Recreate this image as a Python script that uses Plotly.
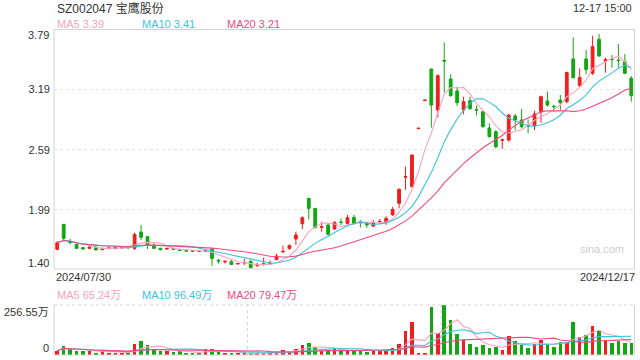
import plotly.graph_objects as go
import pandas as pd

title_text = "SZ002047 宝鹰股份"
time_text = "12-17 15:00"
start_label = "2024/07/30"
end_label = "2024/12/17"
price_ticks = [1.40, 1.99, 2.59, 3.19, 3.79]
vol_max = 256.55  # 万

opens = [1.596, 1.845, 1.676, 1.646, 1.613, 1.606, 1.616, 1.593, 1.603, 1.603,
         1.612, 1.614, 1.606, 1.769, 1.722, 1.639, 1.606, 1.599, 1.603, 1.593,
         1.582, 1.581, 1.581, 1.577, 1.599, 1.485, 1.470, 1.473, 1.450, 1.460,
         1.476, 1.438, 1.447, 1.452, 1.493, 1.570, 1.606, 1.699, 1.852, 2.105,
         2.005, 1.815, 1.839, 1.799, 1.868, 1.855, 1.915, 1.872, 1.862, 1.829,
         1.872, 1.862, 1.940, 2.055, 2.316, 2.222, 2.800, 3.080, 3.396, 2.987,
         3.480, 3.296, 3.176, 2.987, 3.080, 2.990, 2.970, 2.807, 2.770, 2.684,
         2.687, 2.927, 2.887, 2.829, 2.827, 2.970, 3.076, 3.024, 3.086, 3.070,
         3.496, 3.230, 3.496, 3.353, 3.692, 3.475, 3.495, 3.485, 3.469, 3.303]
highs = [1.679, 1.850, 1.700, 1.652, 1.622, 1.625, 1.630, 1.612, 1.615, 1.625,
         1.620, 1.622, 1.762, 1.839, 1.730, 1.655, 1.612, 1.610, 1.608, 1.600,
         1.585, 1.585, 1.585, 1.585, 1.603, 1.500, 1.490, 1.490, 1.460, 1.500,
         1.490, 1.463, 1.513, 1.486, 1.553, 1.633, 1.645, 1.772, 1.925, 2.108,
         2.008, 1.872, 1.855, 1.877, 1.905, 1.940, 1.940, 1.890, 1.870, 1.890,
         1.898, 1.925, 2.020, 2.205, 2.420, 2.544, 2.806, 3.086, 3.396, 3.343,
         3.659, 3.343, 3.220, 3.120, 3.120, 3.030, 2.977, 2.853, 2.787, 2.703,
         2.947, 2.947, 2.997, 2.893, 2.980, 3.130, 3.170, 3.037, 3.136, 3.370,
         3.712, 3.402, 3.585, 3.728, 3.745, 3.510, 3.535, 3.645, 3.545, 3.326]
lows = [1.589, 1.689, 1.645, 1.600, 1.593, 1.598, 1.585, 1.588, 1.598, 1.598,
        1.603, 1.605, 1.589, 1.689, 1.600, 1.600, 1.585, 1.592, 1.590, 1.583,
        1.575, 1.575, 1.575, 1.575, 1.433, 1.453, 1.455, 1.440, 1.445, 1.440,
        1.400, 1.420, 1.433, 1.440, 1.490, 1.565, 1.590, 1.640, 1.799, 1.895,
        1.806, 1.772, 1.733, 1.790, 1.839, 1.845, 1.840, 1.815, 1.810, 1.818,
        1.855, 1.840, 1.930, 2.005, 2.190, 2.215, 2.800, 3.080, 2.810, 2.913,
        3.160, 3.120, 3.027, 2.943, 2.987, 2.933, 2.810, 2.714, 2.604, 2.597,
        2.670, 2.787, 2.804, 2.754, 2.787, 2.860, 3.020, 2.970, 2.987, 3.053,
        3.303, 3.220, 3.343, 3.336, 3.519, 3.360, 3.410, 3.410, 3.346, 3.070]
closes = [1.662, 1.706, 1.665, 1.606, 1.600, 1.619, 1.590, 1.606, 1.610, 1.613,
          1.613, 1.612, 1.746, 1.716, 1.639, 1.606, 1.593, 1.606, 1.596, 1.586,
          1.579, 1.578, 1.578, 1.580, 1.506, 1.480, 1.475, 1.446, 1.455, 1.465,
          1.416, 1.442, 1.452, 1.457, 1.529, 1.576, 1.633, 1.739, 1.912, 2.005,
          1.812, 1.822, 1.746, 1.865, 1.865, 1.912, 1.855, 1.862, 1.840, 1.862,
          1.875, 1.905, 1.995, 2.195, 2.322, 2.537, 2.805, 3.085, 3.036, 3.329,
          3.475, 3.130, 3.060, 3.070, 3.000, 2.987, 2.820, 2.720, 2.620, 2.688,
          2.937, 2.887, 2.820, 2.827, 2.947, 3.120, 3.037, 3.020, 3.060, 3.360,
          3.309, 3.310, 3.392, 3.619, 3.525, 3.490, 3.490, 3.480, 3.353, 3.130]
volumes = [22, 46, 29, 22, 22, 19, 12, 19, 12, 12,
           12, 12, 56, 72, 51, 26, 22, 22, 15, 22,
           7, 12, 12, 31, 31, 19, 9, 9, 9, 9,
           9, 9, 9, 9, 17, 26, 22, 31, 51, 62,
           41, 22, 22, 34, 22, 22, 22, 22, 15, 22,
           22, 22, 36, 56, 123, 169, 10, 10, 248, 111,
           256.55, 180, 108, 77, 56, 43, 51, 36, 43, 26,
           100, 72, 51, 36, 56, 79, 56, 43, 64.5, 67,
           169.7, 92, 103, 149, 125, 75, 60, 70, 60, 61.2]

RED = "#f01e1e"
GREEN = "#12a612"
C_MA5 = "#f7a3bf"
C_MA10 = "#3cc3df"
C_MA20 = "#ee4a80"
TXT = "#333333"
BORDER = "#d4d4d4"
GRID = "#e4e4e4"

n = len(closes)
idx = list(range(n))
cs = pd.Series(closes)
vs = pd.Series(volumes)
ma = {k: cs.rolling(k, min_periods=1).mean() for k in (5, 10, 20)}
vma = {k: vs.rolling(k, min_periods=1).mean() for k in (5, 10, 20)}
vol_colors = [RED if c >= o else GREEN for o, c in zip(opens, closes)]

W, H = 640, 360
px_x = lambda p: p / W
px_y = lambda p: 1 - p / H
X0, X1 = px_x(54), px_x(634.5)
MY0, MY1 = px_y(269), px_y(29.5)
VY0, VY1 = px_y(355), px_y(305)

fig = go.Figure()
fig.add_trace(go.Candlestick(
    x=idx, open=opens, high=highs, low=lows, close=closes,
    increasing=dict(line=dict(color=RED, width=1), fillcolor=RED),
    decreasing=dict(line=dict(color=GREEN, width=1), fillcolor=GREEN),
    whiskerwidth=0, xaxis="x", yaxis="y", showlegend=False))
for k, col in ((5, C_MA5), (10, C_MA10), (20, C_MA20)):
    fig.add_trace(go.Scatter(x=idx, y=ma[k], mode="lines", line=dict(color=col, width=1.1),
                             xaxis="x", yaxis="y", showlegend=False))
fig.add_trace(go.Bar(x=idx, y=volumes, marker=dict(color=vol_colors, line=dict(width=0)),
                     width=0.55, xaxis="x2", yaxis="y2", showlegend=False))
for k, col in ((5, C_MA5), (10, C_MA10), (20, C_MA20)):
    fig.add_trace(go.Scatter(x=idx, y=vma[k], mode="lines", line=dict(color=col, width=1.1),
                             xaxis="x2", yaxis="y2", showlegend=False))

xr = [-0.5, n - 0.5]
fig.update_layout(
    width=W, height=H, margin=dict(l=0, r=0, t=0, b=0),
    paper_bgcolor="white", plot_bgcolor="white", boxgap=0.38,
    font=dict(family="Liberation Sans, Arial, Noto Sans CJK SC", size=11, color=TXT),
    xaxis=dict(domain=[X0, X1], range=xr, showgrid=False, showticklabels=False,
               zeroline=False, rangeslider=dict(visible=False), fixedrange=True),
    yaxis=dict(domain=[MY0, MY1], range=[price_ticks[0], price_ticks[-1]],
               tickvals=price_ticks[1:-1], ticktext=[f"{v:.2f}" for v in price_ticks[1:-1]],
               showgrid=True, gridcolor=GRID, griddash="dot", gridwidth=1,
               zeroline=False, ticks="", ticklabelstandoff=3, tickfont=dict(size=11, color=TXT)),
    xaxis2=dict(domain=[X0, X1], range=xr, showgrid=False, showticklabels=False, zeroline=False,
                anchor="y2"),
    yaxis2=dict(domain=[VY0, VY1], range=[0, vol_max], showticklabels=False, showgrid=False,
                zeroline=False, anchor="x2"),
    bargap=0,
)

shapes = [
    dict(type="rect", xref="paper", yref="paper", x0=X0, x1=X1, y0=MY0, y1=MY1,
         line=dict(color=BORDER, width=1)),
    dict(type="line", xref="paper", yref="paper", x0=X0, x1=X0, y0=VY0, y1=VY1,
         line=dict(color=BORDER, width=1)),
    dict(type="line", xref="paper", yref="paper", x0=X1, x1=X1, y0=VY0, y1=VY1,
         line=dict(color=BORDER, width=1)),
    dict(type="line", xref="paper", yref="paper", x0=X0, x1=X1, y0=VY0, y1=VY0,
         line=dict(color=BORDER, width=1)),
    dict(type="line", xref="paper", yref="paper", x0=X0, x1=X1, y0=VY1, y1=VY1,
         line=dict(color=BORDER, width=1, dash="dot")),
]
for frac in (1 / 3, 2 / 3):
    xv = xr[0] + (xr[1] - xr[0]) * frac
    shapes.append(dict(type="line", xref="x2", yref="paper", x0=xv, x1=xv, y0=VY0, y1=VY1,
                       line=dict(color=BORDER, width=1, dash="dot")))
fig.update_layout(shapes=shapes)

def ann(text, x, y, xanchor="left", size=11, color=TXT):
    fig.add_annotation(text=text, x=x, y=y, xref="paper", yref="paper", xanchor=xanchor,
                       yanchor="middle", showarrow=False, font=dict(size=size, color=color))

ann(title_text, px_x(55), px_y(8), size=12)
ann(time_text, px_x(634), px_y(8), xanchor="right")
ann(f"MA5 {ma[5].iloc[-1]:.2f}", px_x(55), px_y(24), color=C_MA5)
ann(f"MA10 {ma[10].iloc[-1]:.2f}", px_x(140), px_y(24), color=C_MA10)
ann(f"MA20 {ma[20].iloc[-1]:.2f}", px_x(225), px_y(24), color=C_MA20)
ann(f"{price_ticks[-1]:.2f}", px_x(51), px_y(35), xanchor="right")
ann(f"{price_ticks[0]:.2f}", px_x(51), px_y(263), xanchor="right")
ann(start_label, px_x(54), px_y(277))
ann(end_label, px_x(637), px_y(277), xanchor="right")
ann("sina.com", px_x(602), px_y(249), xanchor="center", size=11, color="#cccccc")
ann(f"MA5 {vma[5].iloc[-1]:.2f}万", px_x(55), px_y(295), color=C_MA5)
ann(f"MA10 {vma[10].iloc[-1]:.2f}万", px_x(140), px_y(295), color=C_MA10)
ann(f"MA20 {vma[20].iloc[-1]:.2f}万", px_x(225), px_y(295), color=C_MA20)
ann(f"{vol_max:.2f}万", px_x(51), px_y(312), xanchor="right")
ann("0", px_x(51), px_y(348), xanchor="right")

fig.write_html("out.html", config={"displayModeBar": False},
               post_script="document.body.style.margin='0px';document.body.style.overflow='hidden';")
